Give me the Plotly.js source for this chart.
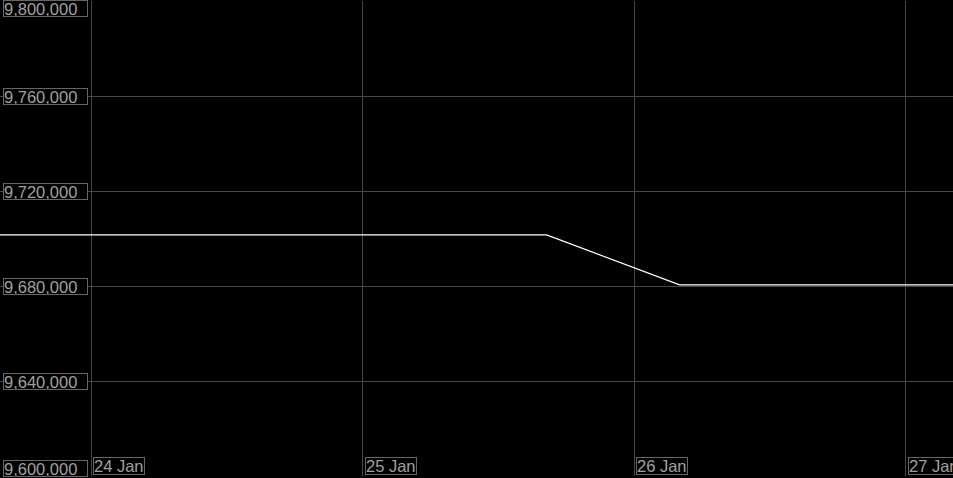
<!DOCTYPE html>
<html>
<head>
<meta charset="utf-8">
<script src="https://cdn.plot.ly/plotly-3.0.1.min.js"></script>
<style>html,body{margin:0;padding:0;background:#000;}#chart{width:953px;height:478px;}</style>
</head>
<body>
<div id="chart"></div>
<script>
const times = ['2024-01-23 15:00','2024-01-24 04:00','2024-01-24 16:00','2024-01-25 04:00','2024-01-25 16:15','2024-01-26 04:00','2024-01-26 16:00','2024-01-27 04:00','2024-01-27 06:00'];
const values = [9701500,9701500,9701500,9701500,9701500,9680500,9680500,9680500,9680500];
const yTicks = [9600000,9640000,9680000,9720000,9760000,9800000];
const xTicks = ['2024-01-24','2024-01-25','2024-01-26','2024-01-27'];
const xTickLabels = ['24 Jan','25 Jan','26 Jan','27 Jan'];

const fontSpec = {family:'"Liberation Sans", Arial, sans-serif', size:16.5, color:'#a0a0a0'};
const annotations = [];
yTicks.forEach(v => {
  const ymin = Math.min(...yTicks), ymax = Math.max(...yTicks);
  annotations.push({
    xref:'paper', yref:'y', x:0, y:v, xanchor:'left',
    yanchor: v===ymax ? 'top' : (v===ymin ? 'bottom' : 'middle'),
    xshift:3, yshift: v===ymax ? 1 : (v===ymin ? -1 : 0),
    text: v.toLocaleString('en-US'), showarrow:false, align:'left',
    width:83, height:15, borderpad:0, borderwidth:1, bordercolor:'#666', bgcolor:'#000',
    font: fontSpec
  });
});
xTicks.forEach((d,i) => {
  annotations.push({
    xref:'x', yref:'paper', x:d, y:0, xanchor:'left', yanchor:'bottom', xshift:2, yshift:1,
    text: xTickLabels[i], showarrow:false, borderpad:0, borderwidth:1, bordercolor:'#666', bgcolor:'#000',
    height:16, font: fontSpec
  });
});

Plotly.newPlot('chart', [{
  x: times, y: values, type:'scatter', mode:'lines',
  line:{color:'#ffffff', width:1.2}, hoverinfo:'skip'
}], {
  width:953, height:478,
  paper_bgcolor:'#000', plot_bgcolor:'#000',
  margin:{l:0, r:0, t:1, b:2, pad:0},
  showlegend:false,
  xaxis:{type:'date', range:['2024-01-23 15:56','2024-01-27 04:10'], tickmode:'array', tickvals:xTicks,
    showticklabels:false, showgrid:true, gridcolor:'#474747', gridwidth:1, zeroline:false,
    showline:false, ticks:''},
  yaxis:{range:[9600000,9800000], tickmode:'array', tickvals:yTicks, showticklabels:false,
    showgrid:true, gridcolor:'#474747', gridwidth:1, zeroline:false, showline:false, ticks:''},
  annotations: annotations
}, {staticPlot:true});
</script>
</body>
</html>
